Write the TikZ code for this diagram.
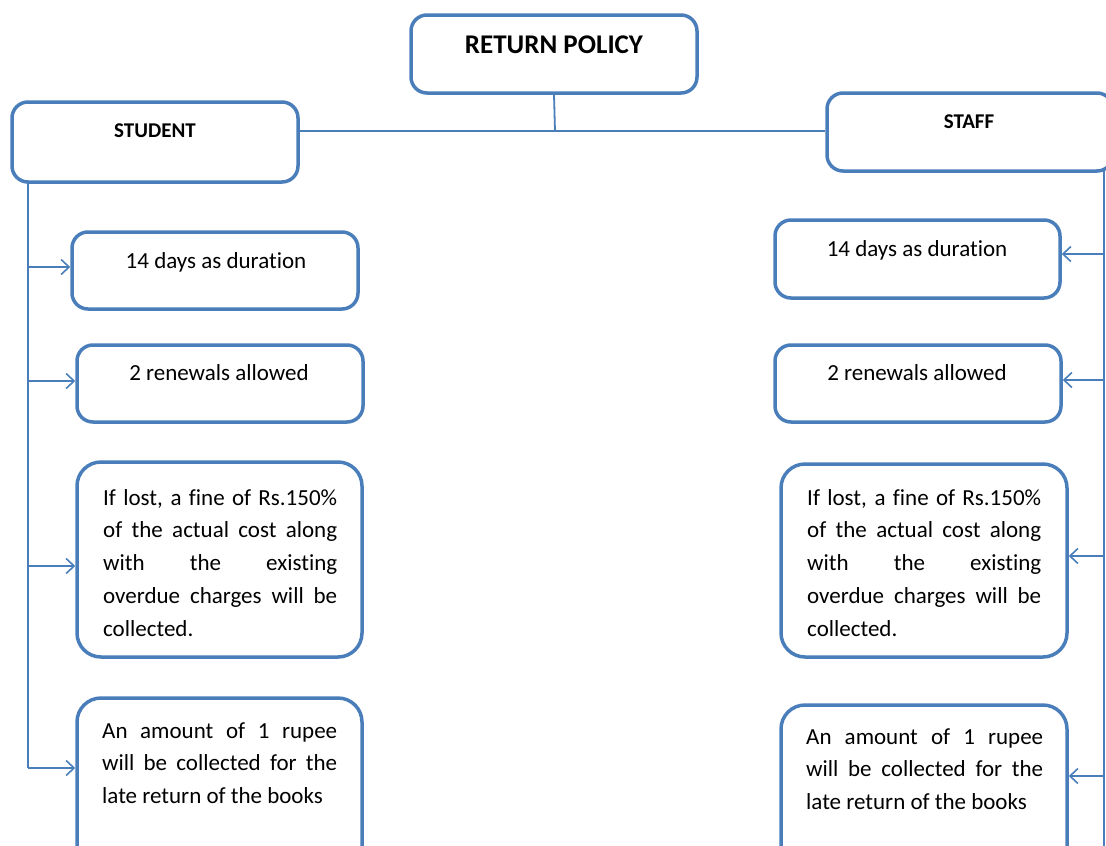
\documentclass[tikz,border=0pt]{standalone}
\usepackage{fontspec}
\setmainfont{Carlito}[RawFeature={-liga}]
\usetikzlibrary{arrows.meta}
\definecolor{boxblue}{RGB}{74,126,187}
\tikzset{
  box/.style={draw=boxblue, line width=3.5pt, rounded corners=16pt, fill=white, inner sep=0pt},
  bigbox/.style={box, rounded corners=24pt},
  conn/.style={draw=boxblue, line width=1.8pt},
  arr/.style={conn, -{Straight Barb[length=8pt,width=15pt,line width=1.6pt]}},
  title/.style={font=\fontsize{27}{30}\selectfont\bfseries, inner sep=0pt},
  head/.style={font=\fontsize{21}{25}\selectfont\bfseries, inner sep=0pt},
  body/.style={font=\fontsize{23}{28}\selectfont, inner sep=0pt, anchor=base},
  para/.style={inner sep=0pt, anchor=base west},
}
\newcommand{\jl}[1]{\makebox[\linewidth][s]{#1}\\}
\begin{document}
\begin{tikzpicture}[x=1pt,y=-1pt]
\useasboundingbox (0,0) rectangle (1106,846);
\clip (0,0) rectangle (1106,846);
% boxes
\node[box, minimum width=286pt, minimum height=78pt] (rp) at (554,54) {};
\node[box, minimum width=286pt, minimum height=80pt] (stu) at (155,142) {};
\node[box, minimum width=286pt, minimum height=78pt] (stf) at (970,132) {};
\node[box, minimum width=286pt, minimum height=77pt] (s1) at (215,270.5) {};
\node[box, minimum width=286pt, minimum height=77pt] (s2) at (220,383.5) {};
\node[bigbox, minimum width=285pt, minimum height=195pt] (s3) at (219.5,559.5) {};
\node[bigbox, minimum width=285pt, minimum height=172pt] (s4) at (219.5,784) {};
\node[box, minimum width=285pt, minimum height=78pt] (t1) at (917.5,259) {};
\node[box, minimum width=286pt, minimum height=77pt] (t2) at (918,383.5) {};
\node[bigbox, minimum width=286pt, minimum height=193pt] (t3) at (924,560.5) {};
\node[bigbox, minimum width=286pt, minimum height=165pt] (t4) at (924,787.5) {};
% texts
\node[title] (rpt) at (554,45) {RETURN POLICY};
\node[head] (stut) at (155,131) {STUDENT};
\node[head] (stft) at (969,122) {STAFF};
\node[body] (s1t) at (216,268) {14 days as duration};
\node[body] (s2t) at (219,380) {2 renewals allowed};
\node[body] (t1t) at (917,256) {14 days as duration};
\node[body] (t2t) at (917,380) {2 renewals allowed};
\node[para] (s3t) at (103,505) {\parbox[t]{234pt}{\fontsize{23}{32.75}\selectfont
  \jl{If lost, a fine of Rs.150\%}\jl{of the actual cost along}\jl{with the existing}\jl{overdue charges will be}collected.}};
\node[para] (t3t) at (807,505) {\parbox[t]{234pt}{\fontsize{23}{32.75}\selectfont
  \jl{If lost, a fine of Rs.150\%}\jl{of the actual cost along}\jl{with the existing}\jl{overdue charges will be}collected.}};
\node[para] (s4t) at (102,738) {\parbox[t]{235pt}{\fontsize{23}{32.75}\selectfont
  \jl{An amount of 1 rupee}\jl{will be collected for the}late return of the books}};
\node[para] (t4t) at (806,744) {\parbox[t]{237pt}{\fontsize{23}{32.75}\selectfont
  \jl{An amount of 1 rupee}\jl{will be collected for the}late return of the books}};
% top connectors
\coordinate (hub) at (555,131);
\draw[conn] (rp.south) -- (hub);
\draw[conn] (stu.east |- hub) -- (stf.west |- hub);
% student spine
\coordinate (sa) at (28,182);
\coordinate (sb) at (28,768);
\draw[conn] (sa) -- (sb);
\coordinate (sl1) at (28,267);
\coordinate (sl2) at (28,381);
\coordinate (sl3) at (28,566);
\draw[arr] (sl1) -- (s1.west |- sl1);
\draw[arr] (sl2) -- (s2.west |- sl2);
\draw[arr] (sl3) -- (s3.west |- sl3);
\draw[arr] (sb) -- (s4.west |- sb);
% staff spine
\coordinate (ta) at (1104,171);
\coordinate (tb) at (1104,846);
\draw[conn] (ta) -- (tb);
\coordinate (tl1) at (1104,254);
\coordinate (tl2) at (1104,380);
\coordinate (tl3) at (1104,556);
\coordinate (tl4) at (1104,776);
\draw[arr] (tl1) -- (t1.east |- tl1);
\draw[arr] (tl2) -- (t2.east |- tl2);
\draw[arr] (tl3) -- (t3.east |- tl3);
\draw[arr] (tl4) -- (t4.east |- tl4);
\end{tikzpicture}
\end{document}
